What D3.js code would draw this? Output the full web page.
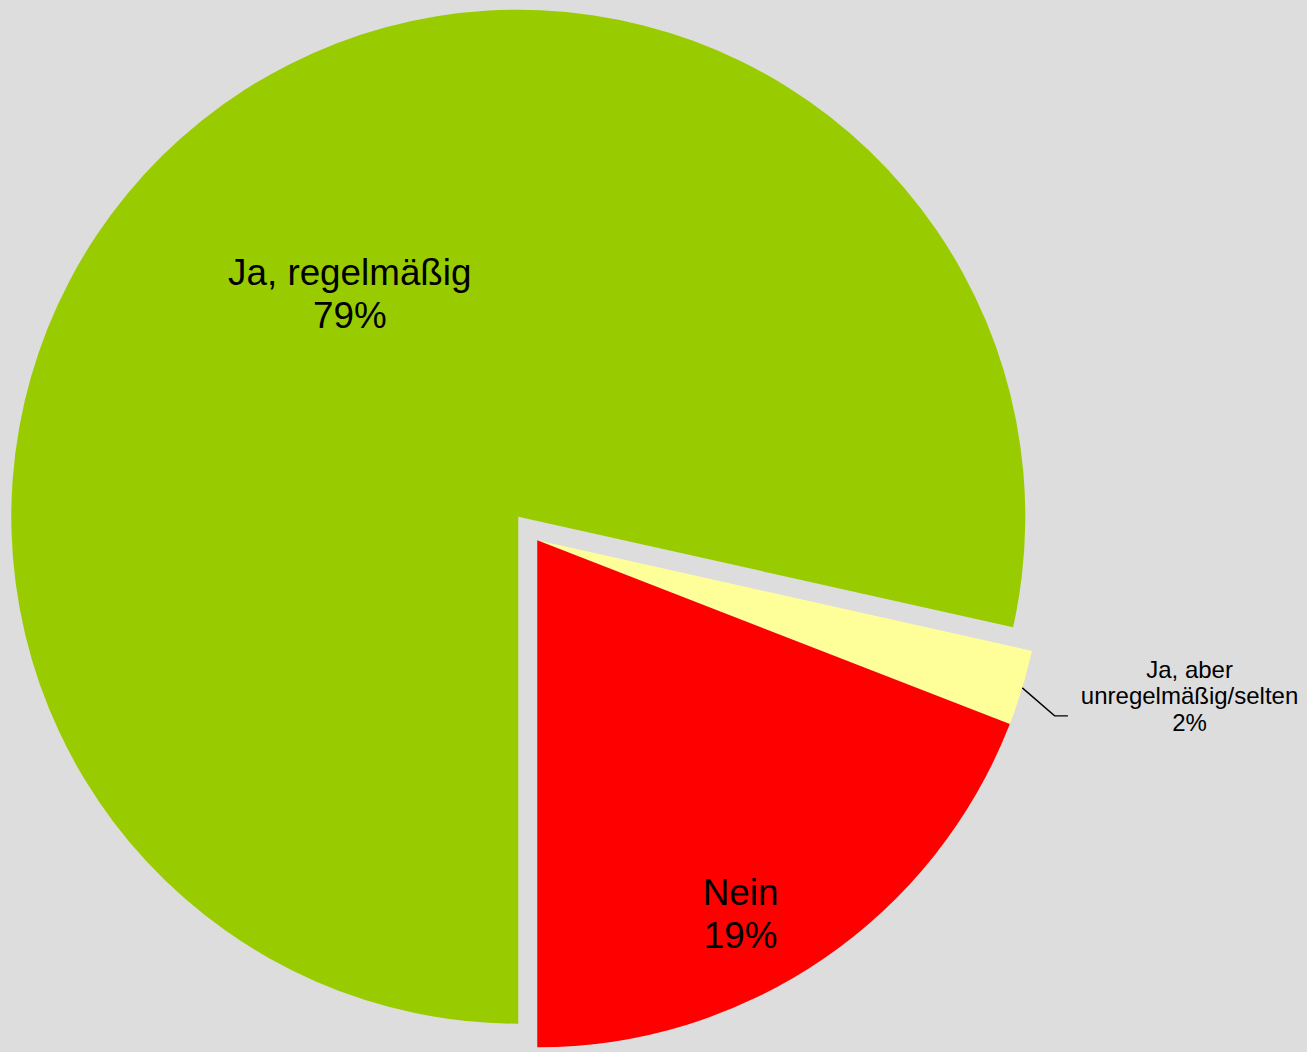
<!DOCTYPE html>
<html>
<head>
<meta charset="utf-8">
<script src="https://cdn.jsdelivr.net/npm/d3@7"></script>
<style>
  html, body { margin: 0; padding: 0; background: #DDDDDD; }
  svg { display: block; }
  text { font-family: Arial, "Liberation Sans", sans-serif; fill: #000; }
</style>
</head>
<body>
<script>
// ---- data ----
const categories = ["Ja, regelmäßig", "Ja, aber unregelmäßig/selten", "Nein"];
const labelLines = [["Ja, regelmäßig"], ["Ja, aber", "unregelmäßig/selten"], ["Nein"]];
const values = [78.5, 2.4, 19.1];
const colors = ["#99CC00", "#FFFF99", "#FF0000"];
const exploded = [false, true, true];

// ---- layout / style ----
const W = 1307, H = 1052;
const cx = 518.3, cy = 516.7, R = 507;
const explodeDist = 30.3;
const bigFont = 36.8, bigGap = 43.5;
const smallFont = 24, smallGap = 26.7;

const svg = d3.select("body").append("svg")
  .attr("width", W).attr("height", H);
svg.append("rect").attr("width", W).attr("height", H).attr("fill", "#DDDDDD");

const total = d3.sum(values);
const pie = d3.pie().sort(null).startAngle(Math.PI).endAngle(3 * Math.PI);
const arcs = pie(values);
const arc = d3.arc().innerRadius(0).outerRadius(R);

// explode the group of exploded slices along the group's bisector
const exA = arcs.filter((a, i) => exploded[i]);
const groupMid = (d3.min(exA, a => a.startAngle) + d3.max(exA, a => a.endAngle)) / 2;
const ex = { x: explodeDist * Math.sin(groupMid), y: -explodeDist * Math.cos(groupMid) };

const center = i => exploded[i] ? [cx + ex.x, cy + ex.y] : [cx, cy];

const g = svg.append("g");
arcs.forEach((a, i) => {
  const [x, y] = center(i);
  g.append("path")
    .attr("d", arc(a))
    .attr("transform", `translate(${x},${y})`)
    .attr("fill", colors[i]);
});

const pct = v => Math.round(v / total * 100) + "%";

// inner labels (slice 0 and 2) : polar placement [angle offset (deg), radius]
const inner = { 0: [1.7, 280], 2: [5.8, 425] };
Object.keys(inner).forEach(k => {
  const i = +k;
  const a = arcs[i];
  const [x0, y0] = center(i);
  const ang = (a.startAngle + a.endAngle) / 2 + inner[k][0] * Math.PI / 180;
  const px = x0 + inner[k][1] * Math.sin(ang);
  const py = y0 - inner[k][1] * Math.cos(ang);
  const lines = labelLines[i].concat([pct(values[i])]);
  const n = lines.length;
  const b1 = py - (n - 1) * bigGap / 2 + 0.716 * bigFont / 2;
  lines.forEach((t, j) => {
    svg.append("text")
      .attr("x", px).attr("y", b1 + j * bigGap)
      .attr("text-anchor", "middle")
      .attr("font-size", bigFont)
      .text(t);
  });
});

// outside label for small slice with leader line
{
  const i = 1;
  const a = arcs[i];
  const [x0, y0] = center(i);
  const ang = (a.startAngle + a.endAngle) / 2;
  const sx = x0 + R * Math.sin(ang), sy = y0 - R * Math.cos(ang);
  const ex1 = sx + 32.3, ey1 = sy + 28;
  const ex2 = ex1 + 13.3;
  svg.append("path")
    .attr("d", `M${sx},${sy}L${ex1},${ey1}L${ex2},${ey1}`)
    .attr("fill", "none").attr("stroke", "#000").attr("stroke-width", 1.4);
  const lines = labelLines[i].concat([pct(values[i])]);
  const tx = ex2 + 121.7;
  const b1 = ey1 - 38.3;
  lines.forEach((t, j) => {
    svg.append("text")
      .attr("x", tx).attr("y", b1 + j * smallGap)
      .attr("text-anchor", "middle")
      .attr("font-size", smallFont)
      .text(t);
  });
}
</script>
</body>
</html>
